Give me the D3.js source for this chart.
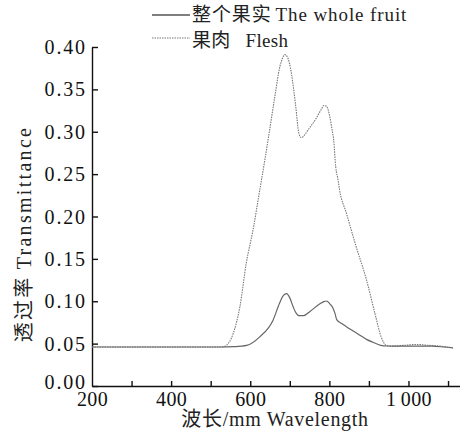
<!DOCTYPE html>
<html><head><meta charset="utf-8">
<script src="https://cdn.jsdelivr.net/npm/d3@7"></script>
<style>
body{margin:0;background:#fff;}
</style></head>
<body><svg id="c" width="460" height="442"></svg>
<script>
const wholeX = [200,300,400,500,523,560,591,624,658,674,684,692,700,708,716,723,735,751,776,786,793,801,809,814,819,830,843,860,877,894,910,930,944,980,1020,1060,1090,1112];
const wholeY = [0.046,0.046,0.046,0.046,0.046,0.0465,0.048,0.058,0.078,0.0976,0.107,0.109,0.104,0.094,0.086,0.083,0.083,0.088,0.097,0.0995,0.1003,0.097,0.092,0.086,0.078,0.074,0.070,0.065,0.060,0.055,0.0516,0.048,0.0472,0.047,0.047,0.047,0.046,0.045];
const fleshX = [200,300,400,500,530,540,557,574,590,607,624,637,649,662,675,682,687,693,699,704,715,723,729,737,746,767,779,786,793,801,807,811,816,822,826,843,868,894,915,931,944,960,990,1020,1050,1080,1112];
const fleshY = [0.046,0.046,0.046,0.046,0.046,0.048,0.062,0.094,0.145,0.184,0.231,0.267,0.302,0.341,0.377,0.387,0.391,0.389,0.381,0.369,0.330,0.298,0.293,0.296,0.302,0.316,0.326,0.331,0.330,0.318,0.302,0.290,0.259,0.243,0.231,0.204,0.164,0.125,0.086,0.058,0.048,0.047,0.048,0.049,0.048,0.047,0.045];
const xTicks = [200,300,400,500,600,700,800,900,1000,1100];
const xTickLabels = {200:"200",400:"400",600:"600",800:"800",1000:"1\u2009000"};
const yTicks = [0,0.05,0.10,0.15,0.20,0.25,0.30,0.35,0.40];
const legendCjk = ["整个果实","果肉"];
const legendLatin = ["The whole fruit","Flesh"];

const SERIF = "'Liberation Serif','DejaVu Serif',serif";
const CJK = "'Noto Sans CJK SC','Noto Sans CJK JP',sans-serif";

const svg = d3.select("#c");
const x = d3.scaleLinear().domain([200,1130]).range([92,459.9]);
const y = d3.scaleLinear().domain([0,0.40]).range([386,47]);

const xa = svg.append("g").attr("transform","translate(0,386)")
  .call(d3.axisBottom(x).tickValues(xTicks).tickSize(-5).tickSizeOuter(0).tickPadding(6)
    .tickFormat(d => xTickLabels[d] || ""));
const ya = svg.append("g").attr("transform","translate(92,0)")
  .call(d3.axisLeft(y).tickValues(yTicks).tickSize(-6).tickSizeOuter(0).tickPadding(7)
    .tickFormat(d3.format(".2f")));
[xa,ya].forEach(g=>{
  g.attr("font-family",SERIF).style("font-family",SERIF);
  g.selectAll("text").style("font-family",SERIF).style("font-size","20px").attr("fill","#111");
  g.selectAll("path,line").attr("stroke","#111").attr("stroke-width",1.4);
});
xa.selectAll("text").style("letter-spacing","0.4px");
ya.selectAll("text").style("letter-spacing","1.8px").attr("dx","1.8");
ya.selectAll(".tick text").attr("dy","0.33em");
ya.selectAll(".tick").filter(d=>d===0).select("text").attr("dy","0.12em");
xa.selectAll(".tick").filter(d=>d===200).select("line").remove();

const line = d3.line().x(d=>x(d[0])).y(d=>y(d[1])).curve(d3.curveMonotoneX);
svg.append("path").datum(fleshX.map((v,i)=>[v,fleshY[i]]))
  .attr("d",line).attr("fill","none").attr("stroke","#777").attr("stroke-width",1.1)
  .attr("stroke-dasharray","1.5,1");
svg.append("path").datum(wholeX.map((v,i)=>[v,wholeY[i]]))
  .attr("d",line).attr("fill","none").attr("stroke","#666").attr("stroke-width",1.2);

function mixed(sel, cjk, latin, gap, ls, fs){
  sel.style("font-size",(fs||20)+"px").attr("fill","#222").style("letter-spacing",ls+"px");
  sel.append("tspan").style("font-family",CJK).text(cjk);
  sel.append("tspan").attr("dx",gap).style("font-family",SERIF).text(latin);
}

// legend
svg.append("line").attr("x1",152).attr("x2",190).attr("y1",15).attr("y2",15)
  .attr("stroke","#555").attr("stroke-width",1.3);
mixed(svg.append("text").attr("x",192).attr("y",21), legendCjk[0], legendLatin[0], 4, 0.9, 19);
svg.append("line").attr("x1",152).attr("x2",190).attr("y1",38).attr("y2",38)
  .attr("stroke","#777").attr("stroke-width",1.1).attr("stroke-dasharray","1.5,1");
mixed(svg.append("text").attr("x",192).attr("y",47), legendCjk[1], legendLatin[1], 15, 0.3, 19);

// axis titles
mixed(svg.append("text").attr("x",275).attr("y",426).attr("text-anchor","middle"),
  "波长", "/mm Wavelength", 0, 0.7);
mixed(svg.append("text").attr("transform","translate(31,234) rotate(-90)").attr("text-anchor","middle"),
  "透过率", "Transmittance", 6, 2.3);
</script></body></html>
